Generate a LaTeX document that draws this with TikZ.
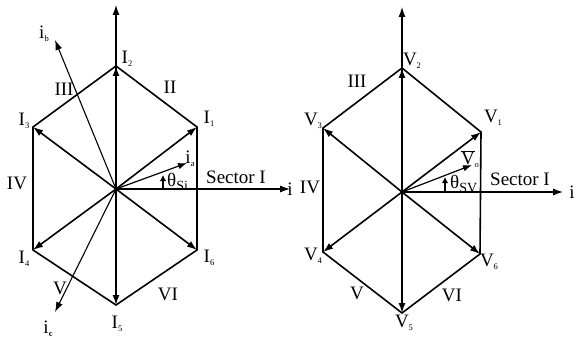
\documentclass[tikz,border=0pt]{standalone}
\usepackage{fontspec}
\setmainfont{Liberation Serif}
\usetikzlibrary{arrows.meta}
\tikzset{
  vec/.style={line width=1.6pt,-{Latex[length=10pt,width=7pt]}},
  axis/.style={line width=1.1pt,-{Latex[length=10pt,width=7pt]}},
  hexside/.style={line width=1.6pt,line join=miter},
  lbl/.style={inner sep=0pt,font=\fontsize{19}{21}\selectfont},
}
\newcommand{\lsub}[1]{\raisebox{-0.35ex}{\fontsize{8.5}{8.5}\selectfont #1}}
\newcommand{\msub}[1]{\raisebox{-0.45ex}{\fontsize{14}{14}\selectfont #1}}

\begin{document}
\begin{tikzpicture}[x=1pt,y=-1pt]
\useasboundingbox (0,0) rectangle (581,345);

% Hexágono de corrientes (izquierda)
\coordinate (O) at (116,189);
\coordinate (I1) at (197,127);
\coordinate (I2) at (116,66);
\coordinate (I3) at (33,127);
\coordinate (I4) at (33,250);
\coordinate (I5) at (116,305);
\coordinate (I6) at (197,250);
\coordinate (Otop) at (116,5);
\coordinate (Oi) at (290,189);
\coordinate (Ib) at (55,40);
\coordinate (Ic) at (55,312);
\coordinate (Ia) at (187,163);
\coordinate (Tsi) at (163,189);
\coordinate (TsiEnd) at (163,175);

\draw[hexside] (I1) -- (I2) -- (I3) -- (I4) -- (I5) -- (I6) -- cycle;
\foreach \k in {1,...,6} \draw[vec] (O) -- (I\k);
\draw[axis] (O) -- (Otop);
\draw[axis] (O) -- (Oi);
\draw[axis] (O) -- (Ib);
\draw[axis] (O) -- (Ic);
\draw[line width=1.2pt,-{Latex[length=9pt,width=6.5pt]}] (O) -- (Ia);
\draw[line width=1.2pt,-{Latex[length=6pt,width=6.5pt]}] (Tsi) -- (TsiEnd);

% Etiquetas izquierda
\node[lbl] (lI1) at (209,119) {I\lsub{1}};
\node[lbl] (lI2) at (127,59) {I\lsub{2}};
\node[lbl] (lI3) at (24,121) {I\lsub{3}};
\node[lbl] (lI4) at (24,259) {I\lsub{4}};
\node[lbl] (lI5) at (117,324) {I\lsub{5}};
\node[lbl] (lI6) at (209,258) {I\lsub{6}};
\node[lbl] (sII) at (170,87) {II};
\node[lbl] (sIII) at (64,89) {III};
\node[lbl] (sIV) at (17,183) {IV};
\node[lbl] (sV) at (60,288) {V};
\node[lbl] (sVI) at (168,294) {VI};
\node[lbl] (lib) at (44,34) {i\lsub{b}};
\node[lbl] (lic) at (48,329) {i\lsub{\textbf{c}}};
\node[lbl] (lia) at (190,159) {i\lsub{a}};
\node[lbl] (li) at (290,189) {i};
\node[lbl] (secI) at (236,177) {Sector I};
\node[lbl,anchor=west] (tsi) at (167,182) {θ\msub{Si}};

% Hexágono de tensiones (derecha)
\coordinate (P) at (402,192);
\coordinate (V1) at (481,132);
\coordinate (V2) at (402,68);
\coordinate (V3) at (323,128);
\coordinate (V4) at (323,252);
\coordinate (V5) at (402,313);
\coordinate (V6) at (480,254);
\coordinate (Ptop) at (402,7);
\coordinate (Pi) at (563,192);
\coordinate (Vo) at (472,165);
\coordinate (Tsv) at (445,192);
\coordinate (TsvEnd) at (445,177);

\draw[hexside] (V1) -- (V2) -- (V3) -- (V4) -- (V5) -- (V6) -- cycle;
\foreach \k in {1,...,6} \draw[vec] (P) -- (V\k);
\draw[axis] (P) -- (Ptop);
\draw[axis] (P) -- (Pi);
\draw[line width=1.2pt,-{Latex[length=9pt,width=6.5pt]}] (P) -- (Vo);
\draw[line width=1.2pt,-{Latex[length=6pt,width=6.5pt]}] (Tsv) -- (TsvEnd);

% Etiquetas derecha
\node[lbl] (lV1) at (493,118) {V\lsub{1}};
\node[lbl] (lV2) at (412,61) {V\lsub{2}};
\node[lbl] (lV3) at (313,121) {V\lsub{3}};
\node[lbl] (lV4) at (313,256) {V\lsub{4}};
\node[lbl] (lV5) at (404,323) {V\lsub{5}};
\node[lbl] (lV6) at (489,262) {V\lsub{6}};
\node[lbl] (tIII) at (357,81) {III};
\node[lbl] (tIV) at (310,187) {IV};
\node[lbl] (tV) at (357,293) {V};
\node[lbl] (tVI) at (452,295) {VI};
\node[lbl] (lpi) at (572,192) {i};
\node[lbl] (secV) at (520,179) {Sector I};
\node[lbl,anchor=west] (tsv) at (450,184) {θ\msub{SV}};
\node[lbl] (lvo) at (470,159) {$\overline{\mbox{V}}$\lsub{o}};
\end{tikzpicture}
\end{document}
